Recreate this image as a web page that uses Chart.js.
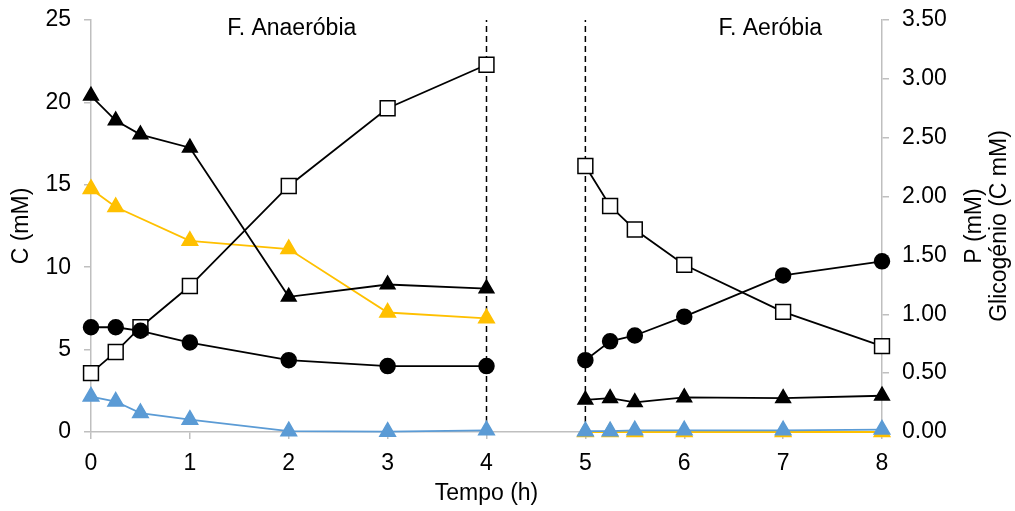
<!DOCTYPE html>
<html>
<head>
<meta charset="utf-8">
<script src="https://cdn.jsdelivr.net/npm/chart.js@4"></script>
<style>
html,body{margin:0;padding:0;background:#fff}
#wrap{width:1015px;height:511px}
</style>
</head>
<body>
<div id="wrap"><canvas id="chart"></canvas></div>
<script>

// time points of each phase (h)
const anaeroTime = [0, 0.25, 0.5, 1, 2, 3, 4]
const aeroTime = [5, 5.25, 5.5, 6, 7, 8]

// C (mM), left axis
const blackTriAnaero = [20.4, 18.9, 18.05, 17.25, 8.2, 8.95, 8.7]
const blackTriAero = [1.95, 2.05, 1.8, 2.1, 2.05, 2.2]
const yellowAnaero = [14.75, 13.65, null, 11.6, 11.1, 7.25, 6.9]
const yellowAero = [0, 0, 0, 0, 0, 0]
const blueAnaero = [2.15, 1.85, 1.15, 0.75, 0.05, 0.02, 0.1]
const blueAero = [0.05, 0.05, 0.1, 0.1, 0.1, 0.15]

// P (mM) and glicogénio (C mM), right axis
const phosAnaero = [0.89, 0.89, 0.86, 0.76, 0.61, 0.56, 0.56]
const phosAero = [0.61, 0.77, 0.82, 0.98, 1.33, 1.45]
const glyAnaero = [0.50, 0.68, 0.89, 1.24, 2.09, 2.75, 3.12]
const glyAero = [2.26, 1.92, 1.72, 1.42, 1.02, 0.73]

// phase boundaries
const phaseLines = [4, 5]

const leftTicks = [0, 5, 10, 15, 20, 25]
const rightTicks = [0, 0.5, 1, 1.5, 2, 2.5, 3, 3.5]

const FONT = "Liberation Sans, Arial, sans-serif"
const AXIS_GREY = "#bfbfbf"

function pts(xs, ys){
return xs.map((x,i)=>({x:x, y:ys[i]}))
}

function series(xs, ys, axis, color, style, fill, radius, order){
return {
data: pts(xs, ys),
yAxisID: axis,
borderColor: color,
borderWidth: 1.8,
pointStyle: style,
pointRadius: radius,
pointBackgroundColor: fill,
pointBorderColor: color,
pointBorderWidth: 1.5,
spanGaps: true,
clip: false,
order: order
}
}

const datasets = []

phaseLines.forEach(x=>{
datasets.push({
data: [{x:x, y:leftTicks[0]}, {x:x, y:leftTicks[leftTicks.length-1]}],
yAxisID: "y",
borderColor: "#000",
borderWidth: 1.5,
borderDash: [6,4],
pointRadius: 0,
order: 10
})
})

datasets.push(series(anaeroTime, yellowAnaero, "y", "#FFC000", "triangle", "#FFC000", 9, 6))
datasets.push(series(aeroTime, yellowAero, "y", "#FFC000", "triangle", "#FFC000", 9, 6))
datasets.push(series(anaeroTime, blueAnaero, "y", "#5B9BD5", "triangle", "#5B9BD5", 9, 5))
datasets.push(series(aeroTime, blueAero, "y", "#5B9BD5", "triangle", "#5B9BD5", 9, 5))
datasets.push(series(anaeroTime, blackTriAnaero, "y", "#000", "triangle", "#000", 8.5, 4))
datasets.push(series(aeroTime, blackTriAero, "y", "#000", "triangle", "#000", 8.5, 4))
datasets.push(series(anaeroTime, glyAnaero, "y2", "#000", "rect", "#fff", 10.5, 3))
datasets.push(series(aeroTime, glyAero, "y2", "#000", "rect", "#fff", 10.5, 3))
datasets.push(series(anaeroTime, phosAnaero, "y2", "#000", "circle", "#000", 7.5, 2))
datasets.push(series(aeroTime, phosAero, "y2", "#000", "circle", "#000", 7.5, 2))

/* axis titles and phase labels */
const textPlugin = {
id: "texts",
afterDraw(chart){
const ctx = chart.ctx
const a = chart.chartArea
const xs = chart.scales.x
const ys = chart.scales.y
const midY = (a.top + a.bottom)/2
ctx.save()
ctx.fillStyle = "#000"
ctx.font = "23px " + FONT
ctx.textAlign = "center"
ctx.textBaseline = "middle"

ctx.fillText("Tempo (h)", (a.left + a.right)/2, 494)
ctx.fillText("F. Anaeróbia", xs.getPixelForValue(2.03), ys.getPixelForValue(24.5))
ctx.fillText("F. Aeróbia", xs.getPixelForValue(6.87), ys.getPixelForValue(24.5))

const vert = (txt, x)=>{
ctx.save()
ctx.translate(x, midY)
ctx.rotate(-Math.PI/2)
ctx.fillText(txt, 0, 0)
ctx.restore()
}
vert("C (mM)", 22)
vert("P (mM)", 975)
vert("Glicogénio (C mM)", 1000)
ctx.restore()
}
}

const tickFont = {family: FONT, size: 23}

// fixed axis widths, no extra room above the top tick label
function fitY(width){
return function(s){
s.width = width
s.paddingTop = 0
s.paddingBottom = 0
}
}

new Chart(document.getElementById("chart"), {
type: "line",
data: {datasets: datasets},
options: {
responsive: true,
maintainAspectRatio: false,
animation: false,
layout: {padding: {top: 20, left: 0, right: 0, bottom: 0}},
plugins: {legend: {display: false}, tooltip: {enabled: false}},
scales: {
x: {
type: "linear",
min: 0, max: 8,
ticks: {stepSize: 1, color: "#000", font: tickFont, padding: 11},
grid: {drawOnChartArea: false, color: AXIS_GREY, tickLength: 7, lineWidth: 1.5},
border: {color: AXIS_GREY, width: 1.5},
afterFit(s){ s.height = 79 }
},
y: {
position: "left",
min: leftTicks[0], max: leftTicks[leftTicks.length-1],
afterBuildTicks(s){ s.ticks = leftTicks.map(v=>({value:v})) },
ticks: {color: "#000", font: tickFont, padding: 13},
grid: {drawOnChartArea: false, color: AXIS_GREY, tickLength: 7, lineWidth: 1.5},
border: {color: AXIS_GREY, width: 1.5},
afterFit: fitY(91)
},
y2: {
position: "right",
min: rightTicks[0], max: rightTicks[rightTicks.length-1],
afterBuildTicks(s){ s.ticks = rightTicks.map(v=>({value:v})) },
ticks: {color: "#000", font: tickFont, padding: 13, callback: v=>v.toFixed(2)},
grid: {drawOnChartArea: false, color: AXIS_GREY, tickLength: 7, lineWidth: 1.5},
border: {color: AXIS_GREY, width: 1.5},
afterFit: fitY(133)
}
}
},
plugins: [textPlugin]
})

</script>
</body>
</html>
